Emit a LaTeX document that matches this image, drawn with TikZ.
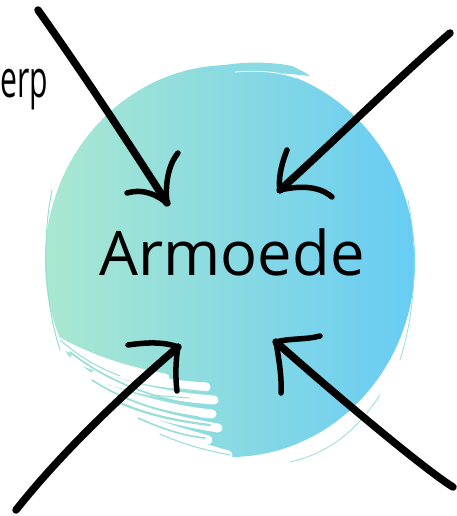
\documentclass[tikz,border=0pt]{standalone}
\usepackage{fontspec}
\setmainfont{Open Sans}
\definecolor{mintL}{RGB}{170,232,208}
\definecolor{skyR}{RGB}{104,204,244}
\definecolor{streak}{RGB}{150,222,214}
\tikzset{
  shaft/.style={line width=7.5pt, line cap=round, black},
  barb/.style={line width=5.5pt, line cap=round, black},
  tealstroke/.style={streak, line cap=round, line width=1.6pt},
  whitestroke/.style={white, line cap=round, line width=9pt},
}
\begin{document}
\begin{tikzpicture}[x=1pt,y=-1pt]
\useasboundingbox (0,0) rectangle (456,516);
% circle
\shade[left color=mintL, right color=skyR] (230,261) ellipse [x radius=185, y radius=196];
% top brush bump
\fill[mintL!50!skyR] (195,72) .. controls (225,62) and (262,60) .. (292,66)
  .. controls (300,70) and (305,72) .. (310,76) -- (250,70) -- cycle;
\draw[white, line width=0.8pt, line cap=round] (235,72) .. controls (260,70) and (280,72) .. (296,78);
% brush edge strokes outside
\draw[tealstroke, line width=1pt] (52,190) .. controls (42,240) and (44,300) .. (60,350);
\draw[tealstroke, line width=0.8pt] (408,200) .. controls (418,250) and (416,310) .. (400,360);
\draw[tealstroke, line width=0.8pt] (380,395) .. controls (350,440) and (320,455) .. (290,462);
% white brush region lower-left
\begin{scope}
\clip (230,261) ellipse [x radius=186, y radius=197];
\fill[white] (40,335) .. controls (100,380) and (150,415) .. (190,440)
  .. controls (205,450) and (230,458) .. (260,462) -- (260,520) -- (40,520) -- cycle;
\draw[whitestroke] (55,340) .. controls (90,360) and (130,372) .. (165,378);
\draw[whitestroke] (75,358) .. controls (120,378) and (170,385) .. (206,387);
\draw[whitestroke] (95,375) .. controls (140,392) and (185,398) .. (214,400);
\draw[whitestroke] (110,390) .. controls (150,405) and (190,412) .. (212,414);
\draw[whitestroke] (125,404) .. controls (160,418) and (200,425) .. (218,428);
\draw[whitestroke] (140,418) .. controls (170,430) and (195,436) .. (208,440);
\draw[whitestroke] (160,430) .. controls (185,443) and (210,450) .. (228,455);
\draw[tealstroke] (70,352) .. controls (100,376) and (140,394) .. (185,403);
\draw[tealstroke] (92,380) .. controls (120,398) and (150,410) .. (198,417);
\draw[tealstroke, line width=2.2pt] (118,402) .. controls (145,414) and (175,421) .. (210,425);
\draw[tealstroke] (138,418) .. controls (165,430) and (185,436) .. (205,438);
\draw[tealstroke, line width=1pt] (160,434) .. controls (185,445) and (205,450) .. (230,455);
\draw[tealstroke, line width=1pt] (60,340) .. controls (80,357) and (95,366) .. (120,376);
\draw[tealstroke, line width=1pt] (172,388) -- (208,392);
\draw[tealstroke, line width=1pt] (150,395) -- (190,398);
\end{scope}
% texts
\node[font=\fontsize{61.5}{70}\selectfont, anchor=base, inner sep=0pt] (title) at (232,275) {Armoede};
\node[font=\fontsize{52}{58}\selectfont, anchor=base west, inner sep=0pt] (sub) at (0,98) {\scalebox{0.58}[1]{erp}};
% arrow coordinates
\coordinate (tlS) at (38,10);   \coordinate (tlT) at (167,203);
\coordinate (trS) at (450,33);  \coordinate (trT) at (280,190);
\coordinate (blS) at (16,510);  \coordinate (blT) at (178,347);
\coordinate (brS) at (453,487); \coordinate (brT) at (276,342);
\coordinate (tlA) at (127,193); \coordinate (tlB) at (178,153);
\coordinate (trA) at (287,150); \coordinate (trB) at (332,197);
\coordinate (blA) at (128,345); \coordinate (blB) at (177,391);
\coordinate (brA) at (320,336); \coordinate (brB) at (281,393);
% shafts
\draw[shaft] (tlS) .. controls (82,72) and (128,142) .. (tlT);
\draw[shaft] (trS) .. controls (398,78) and (330,145) .. (trT);
\draw[shaft] (blS) .. controls (62,452) and (122,395) .. (blT);
\draw[shaft] (brS) .. controls (425,470) and (330,390) .. (brT);
% barbs
\draw[barb] (tlA) .. controls (145,188) and (158,196) .. (tlT);
\draw[barb] (tlB) .. controls (168,165) and (165,185) .. (tlT);
\draw[barb] (trA) .. controls (281,165) and (278,180) .. (trT);
\draw[barb] (trB) .. controls (318,185) and (298,186) .. (trT);
\draw[barb] (blA) .. controls (148,342) and (165,342) .. (blT);
\draw[barb] (blB) .. controls (175,375) and (176,358) .. (blT);
\draw[barb] (brA) .. controls (305,340) and (290,338) .. (brT);
\draw[barb] (brB) .. controls (282,375) and (278,355) .. (brT);
\end{tikzpicture}
\end{document}
